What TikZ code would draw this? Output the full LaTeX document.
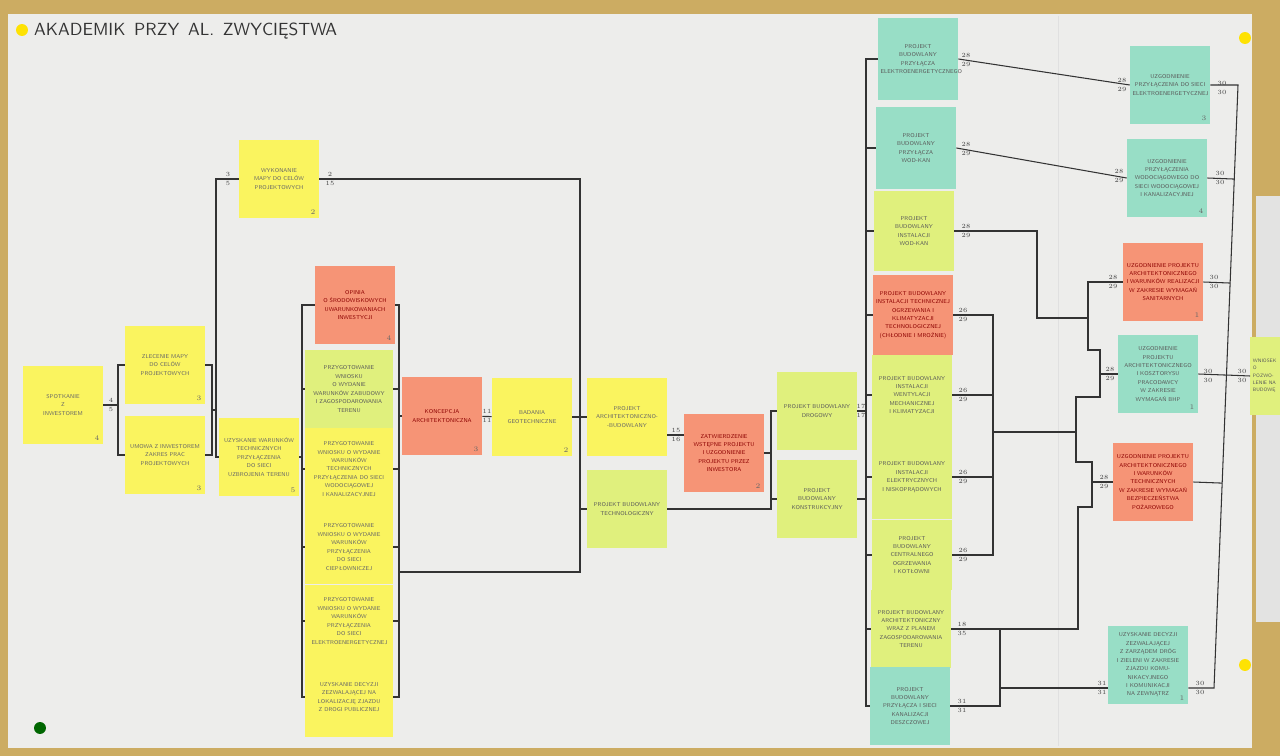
\documentclass[tikz,border=0pt]{standalone}
\usepackage{fontspec}
\usepackage{tikz}
\usetikzlibrary{calc}

\definecolor{zolty}{RGB}{250,244,95}
\definecolor{limonka}{RGB}{224,240,125}
\definecolor{losos}{RGB}{246,148,118}
\definecolor{mieta}{RGB}{152,222,198}
\definecolor{papier}{RGB}{237,237,235}
\definecolor{drewno}{RGB}{204,172,98}

\begin{document}
\begin{tikzpicture}[x=0.02cm, y=-0.02cm,
    kartka/.style={minimum width=1.6cm, minimum height=1.58cm, inner sep=1pt,
      align=center, text width=1.5cm, font=\fontsize{3.2}{4.8}\selectfont\sffamily},
    zolta/.style={kartka, fill=zolty, text=black!60},
    zielona/.style={kartka, fill=limonka, text=black!65},
    czerwona/.style={kartka, fill=losos, text=red!55!black},
    mietowa/.style={kartka, fill=mieta, text=black!65},
    linia/.style={draw=black!80, line width=0.6pt},
    zd/.style={font=\fontsize{3.6}{5.4}\selectfont, align=center, inner sep=0pt, text=black!75},
    czas/.style={anchor=south east, inner sep=2pt, font=\fontsize{4}{4}\selectfont, text=black!60},
    pinezka/.style={fill=yellow!85!orange}]

  \useasboundingbox (0,0) rectangle (1280,756);
  \clip (0,0) rectangle (1280,756);

  % tablica
  \fill[drewno] (0,0) rectangle (1280,756);
  \fill[papier] (8,14) rectangle (1252,748);
  \fill[papier!96!black] (1256,196) rectangle (1280,622);
  \draw[black!12] (1058,16) -- (1058,746);
  \fill[pinezka] (22,30) circle (3.4pt);
  \fill[pinezka] (1245,38) circle (3.4pt);
  \fill[pinezka] (1245,665) circle (3.4pt);
  \fill[green!40!black] (40,728) circle (3.4pt);

  \node[anchor=west, font=\fontsize{10}{12}\selectfont\sffamily, text=black!80] (tytul) at (28,31)
    {AKADEMIK\enspace PRZY\enspace AL.\enspace ZWYCIĘSTWA};

  % kartki - lewa czesc
  \node[zolta, label={[czas]south east:4}] (inwestor) at (63,405) {SPOTKANIE\\Z\\INWESTOREM};
  \node[zolta, label={[czas]south east:3}] (mapa) at (165,365) {ZLECENIE MAPY\\DO CELÓW\\PROJEKTOWYCH};
  \node[zolta, label={[czas]south east:3}] (umowa) at (165,455) {UMOWA Z INWESTOREM\\ZAKRES PRAC\\PROJEKTOWYCH};
  \node[zolta, label={[czas]south east:2}] (wykmapy) at (279,179) {WYKONANIE\\MAPY DO CELÓW\\PROJEKTOWYCH};
  \node[zolta, label={[czas]south east:5}] (warunki) at (259,457) {UZYSKANIE WARUNKÓW\\TECHNICZNYCH\\PRZYŁĄCZENIA\\DO SIECI\\UZBROJENIA TERENU};
  \node[czerwona, label={[czas]south east:4}] (opinia) at (355,305) {OPINIA\\O ŚRODOWISKOWYCH\\UWARUNKOWANIACH\\INWESTYCJI};
  \node[zielona, minimum width=1.76cm] (warzab) at (349,389) {PRZYGOTOWANIE WNIOSKU\\O WYDANIE\\WARUNKÓW ZABUDOWY\\I ZAGOSPODAROWANIA\\TERENU};
  \node[zolta, minimum width=1.76cm, minimum height=1.64cm] (wn1) at (349,469) {PRZYGOTOWANIE\\WNIOSKU O WYDANIE\\WARUNKÓW TECHNICZNYCH\\PRZYŁĄCZENIA DO SIECI\\WODOCIĄGOWEJ\\I KANALIZACYJNEJ};
  \node[zolta, minimum width=1.76cm, minimum height=1.5cm] (wn2) at (349,547) {PRZYGOTOWANIE\\WNIOSKU O WYDANIE\\WARUNKÓW PRZYŁĄCZENIA\\DO SIECI\\CIEPŁOWNICZEJ};
  \node[zolta, minimum width=1.76cm, minimum height=1.44cm] (wn3) at (349,621) {PRZYGOTOWANIE\\WNIOSKU O WYDANIE\\WARUNKÓW PRZYŁĄCZENIA\\DO SIECI\\ELEKTROENERGETYCZNEJ};
  \node[zolta, minimum width=1.76cm, minimum height=1.6cm] (wn4) at (349,697) {UZYSKANIE DECYZJI\\ZEZWALAJĄCEJ NA\\LOKALIZACJĘ ZJAZDU\\Z DROGI PUBLICZNEJ};

  % kartki - srodek
  \node[czerwona, label={[czas]south east:3}] (koncepcja) at (442,416) {KONCEPCJA\\ARCHITEKTONICZNA};
  \node[zolta, label={[czas]south east:2}] (badania) at (532,417) {BADANIA\\GEOTECHNICZNE};
  \node[zolta] (pab) at (627,417) {PROJEKT\\ARCHITEKTONICZNO-\\-BUDOWLANY};
  \node[zielona] (tech) at (627,509) {PROJEKT BUDOWLANY\\TECHNOLOGICZNY};
  \node[czerwona, label={[czas]south east:2}] (zatw) at (724,453) {ZATWIERDZENIE\\WSTĘPNE PROJEKTU\\I UZGODNIENIE\\PROJEKTU PRZEZ\\INWESTORA};
  \node[zielona] (drog) at (817,411) {PROJEKT BUDOWLANY\\DROGOWY};
  \node[zielona] (konstr) at (817,499) {PROJEKT\\BUDOWLANY\\KONSTRUKCYJNY};

  % kartki - projekty branzowe
  \node[mietowa, minimum height=1.64cm] (r1) at (918,59) {PROJEKT\\BUDOWLANY\\PRZYŁĄCZA\\ELEKTROENERGETYCZNEGO};
  \node[mietowa, minimum height=1.64cm] (r2) at (916,148) {PROJEKT\\BUDOWLANY\\PRZYŁĄCZA\\WOD-KAN};
  \node[zielona, minimum height=1.6cm] (r3) at (914,231) {PROJEKT\\BUDOWLANY\\INSTALACJI\\WOD-KAN};
  \node[czerwona, minimum height=1.6cm] (r4) at (913,315) {PROJEKT BUDOWLANY\\INSTALACJI TECHNICZNEJ\\OGRZEWANIA I KLIMATYZACJI\\TECHNOLOGICZNEJ\\(CHŁODNIE I MROŹNIE)};
  \node[zielona, minimum height=1.6cm] (r5) at (912,395) {PROJEKT BUDOWLANY\\INSTALACJI\\WENTYLACJI MECHANICZNEJ\\I KLIMATYZACJI};
  \node[zielona, minimum height=1.68cm] (r6) at (912,477) {PROJEKT BUDOWLANY\\INSTALACJI\\ELEKTRYCZNYCH\\I NISKOPRĄDOWYCH};
  \node[zielona, minimum height=1.4cm] (r7) at (912,555) {PROJEKT\\BUDOWLANY\\CENTRALNEGO OGRZEWANIA\\I KOTŁOWNI};
  \node[zielona, minimum height=1.56cm] (r8) at (911,629) {PROJEKT BUDOWLANY\\ARCHITEKTONICZNY\\WRAZ Z PLANEM\\ZAGOSPODAROWANIA TERENU};
  \node[mietowa, minimum height=1.56cm] (r9) at (910,706) {PROJEKT\\BUDOWLANY\\PRZYŁĄCZA I SIECI\\KANALIZACJI\\DESZCZOWEJ};

  % kartki - uzgodnienia
  \node[mietowa, label={[czas]south east:3}] (u1) at (1170,85) {UZGODNIENIE\\PRZYŁĄCZENIA DO SIECI\\ELEKTROENERGETYCZNEJ};
  \node[mietowa, label={[czas]south east:4}] (u2) at (1167,178) {UZGODNIENIE\\PRZYŁĄCZENIA\\WODOCIĄGOWEGO DO\\SIECI WODOCIĄGOWEJ\\I KANALIZACYJNEJ};
  \node[czerwona, label={[czas]south east:1}] (u3) at (1163,282) {UZGODNIENIE PROJEKTU\\ARCHITEKTONICZNEGO\\I WARUNKÓW REALIZACJI\\W ZAKRESIE WYMAGAŃ\\SANITARNYCH};
  \node[mietowa, label={[czas]south east:1}] (u4) at (1158,374) {UZGODNIENIE\\PROJEKTU\\ARCHITEKTONICZNEGO\\I KOSZTORYSU\\PRACODAWCY\\W ZAKRESIE\\WYMAGAŃ BHP};
  \node[czerwona] (u5) at (1153,482) {UZGODNIENIE PROJEKTU\\ARCHITEKTONICZNEGO\\I WARUNKÓW TECHNICZNYCH\\W ZAKRESIE WYMAGAŃ\\BEZPIECZEŃSTWA\\POŻAROWEGO};
  \node[mietowa, label={[czas]south east:1}] (u6) at (1148,665) {UZYSKANIE DECYZJI\\ZEZWALAJĄCEJ\\Z ZARZĄDEM DRÓG\\I ZIELENI W ZAKRESIE\\ZJAZDU KOMUNIKACYJNEGO\\I KOMUNIKACJI\\NA ZEWNĄTRZ};
  \node[zielona, anchor=west, align=left, minimum width=0.62cm, text width=0.52cm,
    font=\fontsize{2.8}{4.2}\selectfont\sffamily] (wniosek) at (1250,376) {WNIOSEK\\O POZWO-\\LENIE NA\\BUDOWĘ};

  % polaczenia - lewa czesc
  \coordinate (k1) at (118,405);
  \coordinate (k2) at (212,410);
  \coordinate (k3) at (216,410);
  \coordinate (k4) at (302,457);
  \coordinate (k5) at (399,416);
  \coordinate (k6) at (399,572);
  \coordinate (k7) at (580,417);
  \coordinate (k8) at (580,572);
  \draw[linia] (inwestor) -- (k1);
  \draw[linia] (mapa.west) -| (k1) |- (umowa.west);
  \draw[linia] (mapa.east) -| (k2) |- (umowa.east);
  \draw[linia] (k2) -- (k3);
  \draw[linia] (wykmapy.west) -| (k3) |- (warunki.west);
  \draw[linia] (warunki.east) -- (k4);
  \draw[linia] (opinia.west) -| (k4) |- (wn4.west);
  \foreach \n in {warzab,wn1,wn2,wn3}
    \draw[linia] (\n.west) -- (\n.west -| k4);
  \draw[linia] (opinia.east) -| (k5) |- (wn4.east);
  \foreach \n in {warzab,wn1,wn2,wn3}
    \draw[linia] (\n.east) -- (\n.east -| k5);
  \draw[linia] (k5) -- (koncepcja);
  \draw[linia] (koncepcja) -- (badania);
  \draw[linia] (k6) -- (k8) -- (k7);
  \draw[linia] (wykmapy.east) -| (k7);
  \draw[linia] (badania) -- (k7) -- (pab);
  \draw[linia] (k7) |- (tech.west);

  % polaczenia - srodek
  \coordinate (k9) at (771,453);
  \coordinate (k10) at (866,455);
  \draw[linia] ($(pab.east)+(0,18)$) -- ($(zatw.west)+(0,-18)$);
  \draw[linia] (tech.east) -| (k9);
  \draw[linia] (zatw) -- (k9);
  \draw[linia] (drog.west) -| (k9) |- (konstr.west);
  \draw[linia] (r1.west) -| (k10) |- (r9.west);
  \foreach \n in {r2,r3,r4,r5,r6,r7,r8}
    \draw[linia] (\n.west) -- (\n.west -| k10);
  \draw[linia] (drog.east) -- (drog.east -| k10);
  \draw[linia] (konstr.east) -- (konstr.east -| k10);

  % polaczenia - prawa czesc
  \coordinate (k11) at (1037,318);
  \coordinate (k12) at (1000,629);
  \coordinate (k13) at (1000,688);
  \coordinate (m1) at (993,432);
  \coordinate (m2) at (1076,432);
  \coordinate (s1) at (1088,350);
  \coordinate (s2) at (1100,350);
  \coordinate (s3) at (1100,397);
  \coordinate (s4) at (1092,462);
  \coordinate (s5) at (1092,507);
  \coordinate (s6) at (1078,507);
  \draw[linia] (r1.east) -- (u1.west);
  \draw[linia] (r2.east) -- (u2.west);
  \draw[linia] (r3.east) -| (k11) -- (k11 -| s1);
  \draw[linia] (u3.west) -| (s1) -- (s2) -- (s3) -| (m2);
  \draw[linia] (u4.west) -- (u4.west -| s2);
  \draw[linia] (r4.east) -| (m1) |- (r7.east);
  \draw[linia] (r5.east) -- (r5.east -| m1);
  \draw[linia] (r6.east) -- (r6.east -| m1);
  \draw[linia] (m1) -- (m2) |- (s4) -- (s5) -- (s6) |- (r8.east);
  \draw[linia] (u5.west) -- (u5.west -| s4);
  \draw[linia] (k12) |- (r9.east);
  \draw[linia] (k13) -- (k13 -| u6.west);

  % wyjscia do wniosku
  \coordinate (t1) at (1238,85);
  \coordinate (t2) at (1214,688);
  \draw[linia] (u1.east) -- (t1) -- (t2) -- (t2 -| u6.east);
  \foreach \n in {u2,u3,u4,u5}
    \draw[linia] (\n.east) -- ($(t1)!(\n.east)!(t2)$);
  \draw[linia] ($(t1)!(wniosek.west)!(t2)$) -- (wniosek.west);

  % zdarzenia
  \node[zd] (z1) at (111,405) {4\\5};
  \node[zd] (z2) at (228,179) {3\\5};
  \node[zd] (z3) at (330,179) {2\\15};
  \node[zd] (z4) at (487,416) {11\\11};
  \node[zd] (z5) at (676,435) {15\\16};
  \node[zd] (z6) at (861,411) {17\\17};
  \node[zd] (z7) at (966,60) {28\\29};
  \node[zd] (z8) at (966,149) {28\\29};
  \node[zd] (z9) at (966,231) {28\\29};
  \node[zd] (z10) at (963,315) {26\\29};
  \node[zd] (z11) at (963,395) {26\\29};
  \node[zd] (z12) at (963,477) {26\\29};
  \node[zd] (z13) at (963,555) {26\\29};
  \node[zd] (z14) at (962,629) {18\\35};
  \node[zd] (z15) at (962,706) {31\\31};
  \node[zd] (z16) at (1122,85) {28\\29};
  \node[zd] (z17) at (1119,176) {28\\29};
  \node[zd] (z18) at (1113,282) {28\\29};
  \node[zd] (z19) at (1110,374) {28\\29};
  \node[zd] (z20) at (1104,482) {28\\29};
  \node[zd] (z21) at (1102,688) {31\\31};
  \node[zd] (z22) at (1222,88) {30\\30};
  \node[zd] (z23) at (1220,178) {30\\30};
  \node[zd] (z24) at (1214,282) {30\\30};
  \node[zd] (z25) at (1208,376) {30\\30};
  \node[zd] (z26) at (1242,376) {30\\30};
  \node[zd] (z27) at (1200,688) {30\\30};
\end{tikzpicture}
\end{document}
